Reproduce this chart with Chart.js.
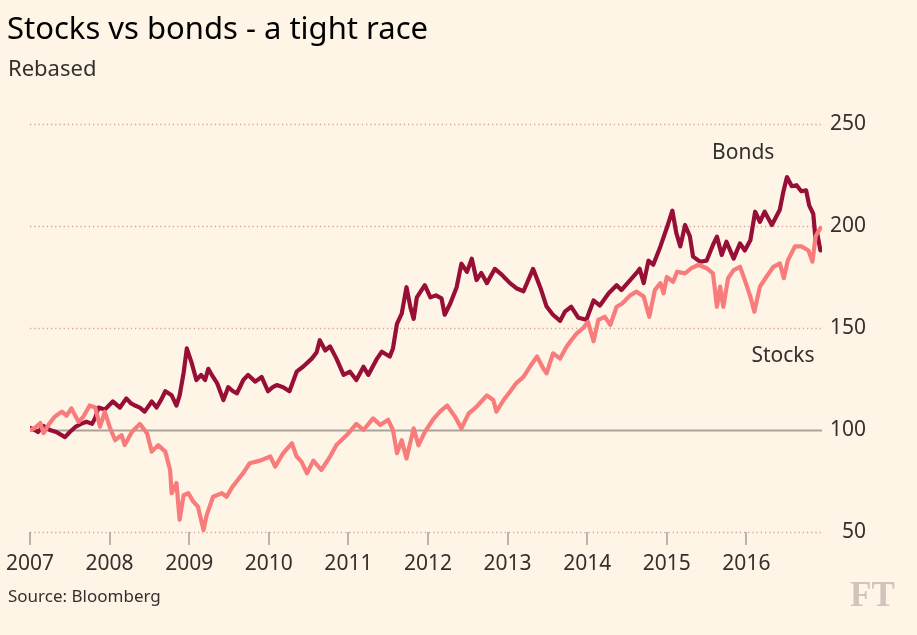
<!DOCTYPE html>
<html>
<head>
<meta charset="utf-8">
<script src="https://cdn.jsdelivr.net/npm/chart.js@4.4.1/dist/chart.umd.min.js"></script>
<style>
  html, body { margin:0; padding:0; background:#fff5e6; }
  #wrap { position:relative; width:917px; height:635px; overflow:hidden; background:#fff5e6; }
  #c { position:absolute; left:0; top:0; }
  .txt { position:absolute; white-space:nowrap; font-family:"Noto Sans", sans-serif; }
  #title { left:7px; top:6px; font-size:31px; color:#000; }
  #sub { left:8px; top:52px; font-size:22px; color:#33302e; }
  #src { left:8px; top:584px; font-size:17px; color:#33302e; }
  #ft { left:850px; top:575px; font-family:"Liberation Serif", serif; font-size:35px; color:#d2c3bc; font-weight:bold; }
</style>
</head>
<body>
<div id="wrap">
  <canvas id="c" width="917" height="635"></canvas>
  <div class="txt" id="title">Stocks vs bonds - a tight race</div>
  <div class="txt" id="sub">Rebased</div>
  <div class="txt" id="src">Source: Bloomberg</div>
  <div class="txt" id="ft">FT</div>
</div>
<script>
const yearTicks = [2007, 2008, 2009, 2010, 2011, 2012, 2013, 2014, 2015, 2016];
const valueTicks = [50, 100, 150, 200, 250];

const bondDates = [
2007.00,2007.06,2007.10,2007.17,2007.25,2007.33,2007.44,2007.50,2007.57,2007.64,
2007.71,2007.78,2007.82,2007.86,2007.94,2008.04,2008.13,2008.21,2008.27,2008.32,
2008.38,2008.44,2008.53,2008.59,2008.65,2008.70,2008.78,2008.84,2008.88,2008.93,
2008.97,2009.03,2009.09,2009.15,2009.20,2009.24,2009.30,2009.35,2009.43,2009.49,
2009.55,2009.60,2009.68,2009.74,2009.83,2009.91,2009.99,2010.05,2010.10,2010.18,
2010.26,2010.35,2010.43,2010.54,2010.60,2010.64,2010.71,2010.77,2010.85,2010.94,
2011.02,2011.10,2011.19,2011.25,2011.36,2011.42,2011.52,2011.56,2011.61,2011.67,
2011.73,2011.78,2011.82,2011.86,2011.96,2012.03,2012.10,2012.17,2012.21,2012.28,
2012.36,2012.42,2012.49,2012.55,2012.61,2012.67,2012.74,2012.84,2012.93,2013.03,
2013.11,2013.20,2013.32,2013.41,2013.49,2013.57,2013.66,2013.72,2013.80,2013.89,
2013.99,2014.08,2014.16,2014.27,2014.37,2014.43,2014.54,2014.62,2014.66,2014.71,
2014.77,2014.83,2014.92,2015.00,2015.07,2015.12,2015.17,2015.23,2015.29,2015.33,
2015.42,2015.50,2015.58,2015.63,2015.69,2015.75,2015.84,2015.92,2015.98,2016.05,
2016.11,2016.17,2016.23,2016.32,2016.42,2016.46,2016.51,2016.57,2016.63,2016.69,
2016.75,2016.79,2016.84,2016.87,2016.89,2016.93
];
const bondValues = [
101,100,99,102,100,99,96.5,99,101.5,103,
104,103,106,111,110,114,111,115.5,113,112,
111,109,114,111,115,119,117,112,117,128,
140,133,124.5,127,124.5,130,126,123,114.7,121,
119,118,124.5,127,123.7,126,119,121,122,121,
119,128.6,131,135,138,144,139,141,135,127,
128.6,124.5,131,127,135,138.4,136,140,152,157,
170,160,154.5,165,171,165,166,164.5,156.5,162,
170,181.5,177.5,184,173.5,177,172,179,176,172,
169.5,168,179,170,160.5,156.5,153.5,158,160.4,155,
154,163.5,161,167,171,168.6,173.5,177,179,172,
183,181,190,199,207.5,196.5,190,200.5,195,185,
182.5,183,190.7,194.8,185.8,192.3,184,191.5,188,193,
207,202,207,200.5,208,216,224,219.5,220,217,
217.5,210,206,193,196.5,188
];

const stockDates = [
2007.00,2007.06,2007.13,2007.17,2007.24,2007.31,2007.40,2007.46,2007.52,2007.61,
2007.67,2007.75,2007.82,2007.88,2007.94,2008.00,2008.07,2008.15,2008.19,2008.28,
2008.38,2008.47,2008.53,2008.61,2008.70,2008.76,2008.78,2008.84,2008.88,2008.93,
2008.99,2009.05,2009.11,2009.18,2009.22,2009.30,2009.41,2009.47,2009.54,2009.60,
2009.68,2009.76,2009.89,2010.02,2010.08,2010.18,2010.29,2010.35,2010.41,2010.48,
2010.56,2010.66,2010.77,2010.85,2010.98,2011.10,2011.19,2011.31,2011.40,2011.50,
2011.56,2011.61,2011.67,2011.73,2011.82,2011.88,2011.96,2012.07,2012.15,2012.24,
2012.34,2012.42,2012.51,2012.61,2012.74,2012.82,2012.86,2012.95,2013.03,2013.11,
2013.20,2013.28,2013.37,2013.45,2013.49,2013.57,2013.66,2013.74,2013.80,2013.87,
2013.95,2014.01,2014.08,2014.14,2014.22,2014.29,2014.37,2014.44,2014.54,2014.62,
2014.71,2014.78,2014.85,2014.92,2014.96,2015.00,2015.08,2015.13,2015.23,2015.31,
2015.40,2015.50,2015.58,2015.63,2015.67,2015.71,2015.77,2015.84,2015.92,2015.98,
2016.05,2016.10,2016.17,2016.25,2016.34,2016.42,2016.47,2016.52,2016.61,2016.69,
2016.78,2016.83,2016.87,2016.93
];
const stockValues = [
100,101,103.4,98.5,103,106.5,109,107,110.6,104,
106.5,112,111,101.6,109,101.6,95,97.5,92.6,99,
103,98.4,89.4,92.6,89.4,80.4,69,74,56,68,
69,65,62.4,51,58.3,67.3,69,67.3,72,75,
79,83.7,85,87,82,88.6,93.5,87,84.5,78.8,
85,80.4,87,92.6,97.5,103,100,105.7,102.5,105,
100,88.6,95,86,100.8,92.5,99,105.5,109,112,
106.5,100.8,108,111.4,117,114.7,109,114.7,118.8,123,
126,131,136,130,127.8,137.6,135,140.8,144,147.4,
150,153,143.5,154,155.5,151.5,160.4,162,166,167.8,
165.4,155.5,168.6,172,167,175,172.7,177.6,176.8,179.3,
181,179.3,176.8,160.4,170.3,160.4,174.4,178.4,180,173.5,
165.4,158,170.3,175,180,181.7,174.4,183,190,190,
188,182.5,195,199
];

const seriesLabels = [
  { text: 'Bonds', x: 2015.96, y: 236 },
  { text: 'Stocks', x: 2016.46, y: 136.5 }
];

const toPoints = (xs, ys) => xs.map((x, i) => ({ x: x, y: ys[i] }));

const decor = {
  id: 'decor',
  beforeDatasetsDraw(chart) {
    const { ctx, chartArea: a, scales: { x, y } } = chart;
    ctx.save();
    valueTicks.forEach(v => {
      const py = Math.round(y.getPixelForValue(v)) + 0.5;
      ctx.beginPath();
      if (v === 100) {
        ctx.setLineDash([]);
        ctx.strokeStyle = '#a9a39b';
        ctx.lineWidth = 2;
      } else {
        ctx.setLineDash([1.3, 2.9]);
        ctx.strokeStyle = '#d2a69c';
        ctx.lineWidth = 1.3;
      }
      ctx.moveTo(a.left, py);
      ctx.lineTo(a.right, py);
      ctx.stroke();
    });
    ctx.setLineDash([]);
    ctx.strokeStyle = '#aaa39c';
    ctx.lineWidth = 1.6;
    yearTicks.forEach(t => {
      const px = Math.round(x.getPixelForValue(t));
      ctx.beginPath();
      ctx.moveTo(px, a.bottom);
      ctx.lineTo(px, a.bottom + 13);
      ctx.stroke();
    });
    ctx.restore();
  },
  afterDatasetsDraw(chart) {
    const { ctx, scales: { x, y } } = chart;
    ctx.save();
    ctx.font = '21px "Noto Sans", sans-serif';
    ctx.fillStyle = '#33302e';
    ctx.textAlign = 'center';
    ctx.textBaseline = 'middle';
    seriesLabels.forEach(l => {
      ctx.fillText(l.text, x.getPixelForValue(l.x), y.getPixelForValue(l.y));
    });
    ctx.restore();
  }
};

new Chart(document.getElementById('c'), {
  type: 'line',
  data: {
    datasets: [
      {
        label: 'Stocks',
        data: toPoints(stockDates, stockValues),
        borderColor: '#f87c7b',
        borderWidth: 4.2,
        order: 0
      },
      {
        label: 'Bonds',
        data: toPoints(bondDates, bondValues),
        borderColor: '#970f37',
        borderWidth: 4.2,
        order: 1
      }
    ]
  },
  options: {
    responsive: false,
    animation: false,
    devicePixelRatio: 1,
    elements: {
      point: { radius: 0 },
      line: { tension: 0, borderJoinStyle: 'round', borderCapStyle: 'round' }
    },
    layout: { padding: { left: 30, top: 124, right: 51, bottom: 0 } },
    plugins: { legend: { display: false }, tooltip: { enabled: false } },
    scales: {
      x: {
        type: 'linear',
        min: 2007,
        max: 2016.95,
        grid: { display: false, drawTicks: false },
        border: { display: false },
        afterBuildTicks: s => { s.ticks = yearTicks.map(v => ({ value: v })); },
        afterFit: s => { s.height = 103; s.paddingLeft = 0; s.paddingRight = 0; },
        ticks: {
          padding: 19,
          maxRotation: 0,
          autoSkip: false,
          color: '#33302e',
          font: { family: '"Noto Sans", sans-serif', size: 21 },
          callback: v => String(v)
        }
      },
      y: {
        position: 'right',
        min: 50,
        max: 250,
        grid: { display: false, drawTicks: false },
        border: { display: false },
        afterBuildTicks: s => { s.ticks = valueTicks.map(v => ({ value: v })); },
        afterFit: s => { s.width = 44; s.paddingTop = 0; s.paddingBottom = 0; },
        ticks: {
          padding: 6,
          crossAlign: 'far',
          color: '#33302e',
          font: { family: '"Noto Sans", sans-serif', size: 21 },
          callback: v => String(v)
        }
      }
    }
  },
  plugins: [decor]
});
</script>
</body>
</html>
